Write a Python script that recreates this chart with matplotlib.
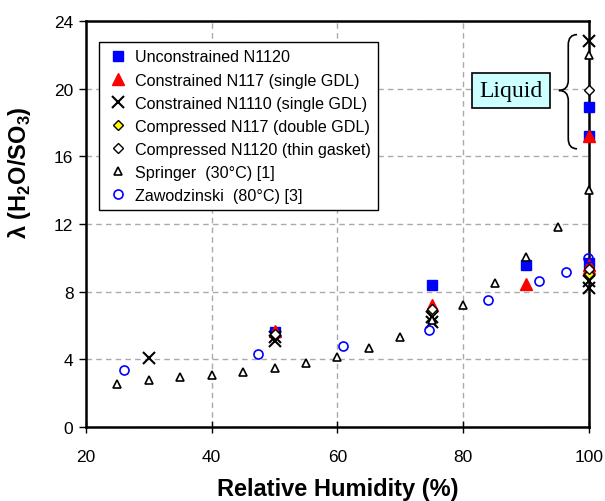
import matplotlib
matplotlib.use("Agg")
import matplotlib.pyplot as plt
from matplotlib.path import Path
from matplotlib.patches import PathPatch

plt.rcParams['font.family'] = ['Liberation Sans', 'DejaVu Sans']
plt.rcParams['mathtext.fontset'] = 'custom'
plt.rcParams['mathtext.rm'] = 'Liberation Sans'
plt.rcParams['mathtext.bf'] = 'Liberation Sans:bold'

# ---- data ----
unc_n1120_rh = [50, 75, 90, 100, 100, 100]
unc_n1120_lam = [5.6, 8.4, 9.6, 18.9, 17.2, 9.7]

con_n117_rh = [50, 75, 90, 100, 100, 100]
con_n117_lam = [5.7, 7.2, 8.45, 17.2, 9.6, 9.4]

con_n1110_rh = [30, 50, 50, 75, 75, 100, 100, 100]
con_n1110_lam = [4.1, 5.3, 5.1, 6.5, 6.2, 22.8, 8.65, 8.2]

comp_n117_rh = [50, 75, 100]
comp_n117_lam = [5.45, 6.85, 9.05]

comp_n1120_rh = [50, 75, 100, 100]
comp_n1120_lam = [5.5, 7.0, 19.95, 9.35]

springer_rh = [25, 30, 35, 40, 45, 50, 55, 60, 65, 70, 75, 80, 85, 90, 95, 100, 100]
springer_lam = [2.55, 2.75, 2.95, 3.1, 3.25, 3.5, 3.8, 4.15, 4.7, 5.35, 6.3, 7.2,
                8.5, 10.05, 11.85, 14.0, 22.0]

zaw_rh = [26.1, 47.3, 60.8, 74.6, 83.9, 92.0, 96.3, 99.8]
zaw_lam = [3.37, 4.3, 4.77, 5.76, 7.51, 8.62, 9.19, 9.98]

labels = ['Unconstrained N1120', 'Constrained N117 (single GDL)',
          'Constrained N1110 (single GDL)', 'Compressed N117 (double GDL)',
          'Compressed N1120 (thin gasket)', 'Springer  (30°C) [1]',
          'Zawodzinski  (80°C) [3]']

x_ticks = [20, 40, 60, 80, 100]
y_ticks = [0, 4, 8, 12, 16, 20, 24]

# ---- figure ----
fig = plt.figure(figsize=(6.05, 5.02), dpi=100)
ax = fig.add_axes([0.142, 0.1474, 0.8316, 0.8086])

ax.plot(unc_n1120_rh, unc_n1120_lam, ls='none', marker='s', ms=6.5,
        mfc='#0000ff', mec='#0000ff', label=labels[0], clip_on=False, zorder=3)
ax.plot(con_n117_rh, con_n117_lam, ls='none', marker='^', ms=9,
        mfc='#ff0000', mec='#ff0000', label=labels[1], clip_on=False, zorder=3)
ax.plot(con_n1110_rh, con_n1110_lam, ls='none', marker='x', ms=9, mew=1.5,
        color='black', label=labels[2], clip_on=False, zorder=3)
ax.plot(comp_n117_rh, comp_n117_lam, ls='none', marker='D', ms=5.5, mew=1.0,
        mfc='#ffff00', mec='black', label=labels[3], clip_on=False, zorder=3)
ax.plot(comp_n1120_rh, comp_n1120_lam, ls='none', marker='D', ms=5.5, mew=1.0,
        mfc='white', mec='black', label=labels[4], clip_on=False, zorder=3)
ax.plot(springer_rh, springer_lam, ls='none', marker='^', ms=5.5, mew=1.2,
        mfc='white', mec='black', label=labels[5], clip_on=False, zorder=3)
ax.plot(zaw_rh, zaw_lam, ls='none', marker='o', ms=6.5, mew=1.2,
        mfc='none', mec='#0000ff', label=labels[6], clip_on=False, zorder=3)

ax.set_xlim(20, 100)
ax.set_ylim(0, 24)
ax.set_xticks(x_ticks)
ax.set_yticks(y_ticks)
ax.tick_params(axis='x', direction='inout', length=9, width=1, labelsize=12.5, pad=11)
ax.tick_params(axis='y', direction='out', length=5, width=1, labelsize=12.5, pad=4)

ax.grid(True, ls=(0, (4, 3)), color='#aaaaaa', lw=1.0, zorder=0)
ax.set_axisbelow(True)
for s in ax.spines.values():
    s.set_linewidth(1.8)
    s.set_color('black')

ax.set_xlabel('Relative Humidity (%)', fontsize=17, fontweight='bold', labelpad=10)
ax.set_ylabel(r'λ (H$_\mathbf{2}$O/SO$_\mathbf{3}$)', fontsize=17,
              fontweight='bold')
ax.yaxis.set_label_coords(-0.105, 0.63)

leg = ax.legend(loc='upper left', bbox_to_anchor=(0.026, 0.948), borderaxespad=0,
                fontsize=11.6, frameon=True, fancybox=False, framealpha=1,
                edgecolor='black', handlelength=1.5, handletextpad=0.3,
                labelspacing=0.5, borderpad=0.45, numpoints=1)
leg.get_frame().set_linewidth(1.0)

# Liquid annotation
ax.text(87.6, 19.9, 'Liquid', fontsize=17, family=['Liberation Serif', 'DejaVu Serif'],
        ha='center', va='center', zorder=5,
        bbox=dict(boxstyle='square,pad=0.3', fc='#ccffff', ec='black', lw=1.2))

# curly brace spanning the liquid-water values
b_top, b_bot, b_mid = 23.2, 16.45, 19.9
xs, xt, xe = 96.7, 95.2, 98.1
h = 0.6
verts = [(xe, b_top), (xs, b_top), (xs, b_top - h),
         (xs, b_mid + h),
         (xs, b_mid), (xt, b_mid),
         (xs, b_mid), (xs, b_mid - h),
         (xs, b_bot + h),
         (xs, b_bot), (xe, b_bot)]
codes = [Path.MOVETO, Path.CURVE3, Path.CURVE3,
         Path.LINETO,
         Path.CURVE3, Path.CURVE3,
         Path.CURVE3, Path.CURVE3,
         Path.LINETO,
         Path.CURVE3, Path.CURVE3]
ax.add_patch(PathPatch(Path(verts, codes), fc='none', ec='black', lw=1.2, zorder=4))

fig.savefig('out.png', dpi=100)
